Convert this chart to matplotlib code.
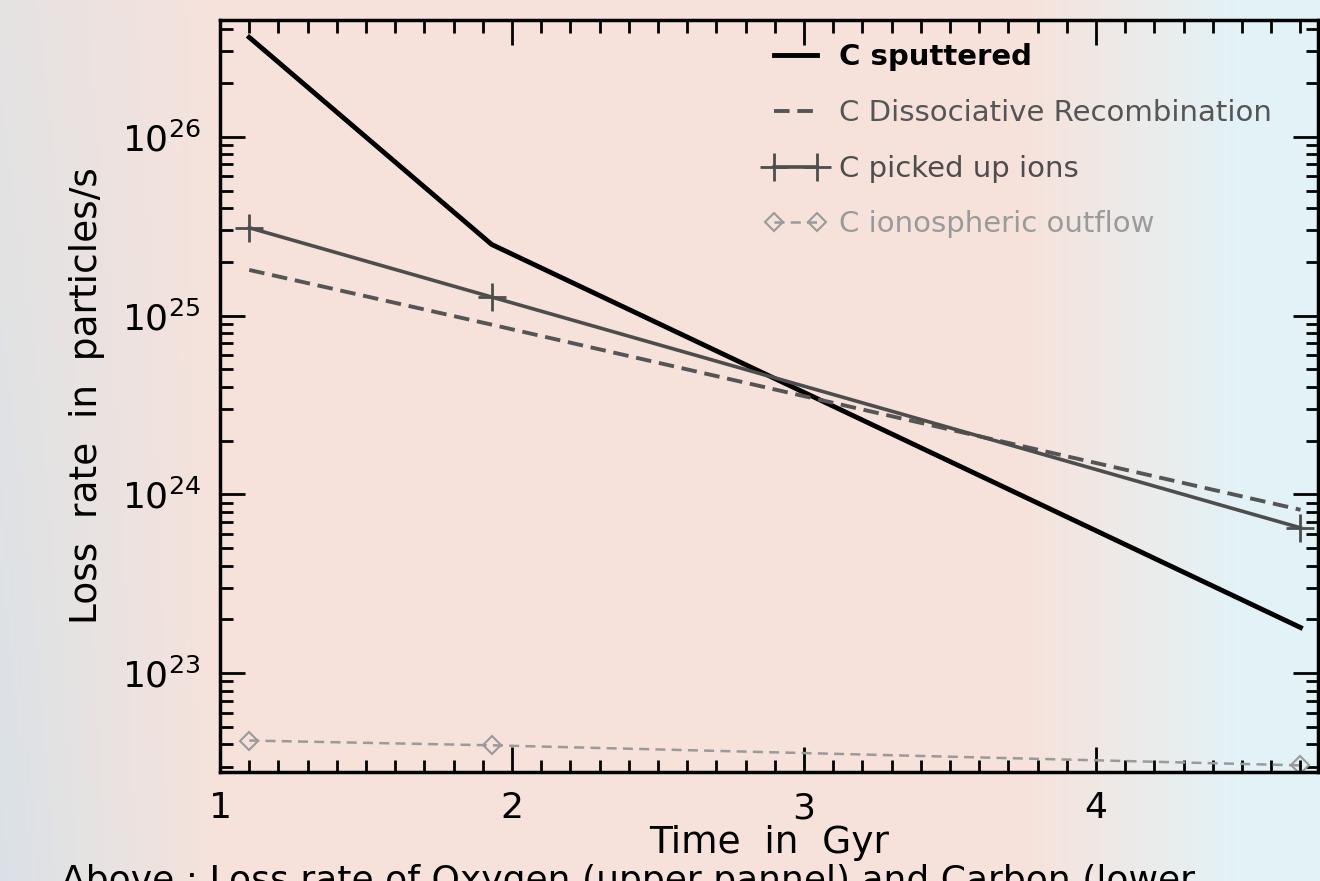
import numpy as np
import matplotlib
matplotlib.use("Agg")
import matplotlib.pyplot as plt

# Carbon loss rates (particles/s) against time (Gyr)
time_gyr = [1.1, 1.93, 4.7]
c_sputtered = [3.6e26, 2.5e25, 1.8e23]
c_dissoc_recomb = [1.8e25, 8.9e24, 8.2e23]
c_pickup_ions = [3.1e25, 1.27e25, 6.5e23]
c_iono_outflow = [4.2e22, 3.95e22, 3.05e22]

x_ticks = [1, 2, 3, 4]
y_ticks = [1e23, 1e24, 1e25, 1e26]

plt.rcParams['font.family'] = ['DejaVu Sans']
plt.rcParams['mathtext.fontset'] = 'dejavusans'

fig = plt.figure(figsize=(13.2, 8.81), dpi=100)

# soft slide-like background: bluish edges fading into a pale pink middle
bg = fig.add_axes([0, 0, 1, 1], zorder=-10)
h, w = 200, 300
xx = np.linspace(0, 1, w)[None, :]
yy = np.linspace(0, 1, h)[:, None]
pink = np.array([0.965, 0.890, 0.862])
blue_left = np.array([0.855, 0.885, 0.905])
cyan_right = np.array([0.890, 0.950, 0.970])
wl = np.clip(1 - xx / 0.16, 0, 1)[..., None] * (0.6 + 0.4 * yy[..., None])
wr = np.clip((xx - 0.78) / 0.16, 0, 1)[..., None] * np.ones_like(yy)[..., None]
img = pink * (1 - wl - wr) + blue_left * wl + cyan_right * wr
img = np.clip(img, 0, 1)
bg.imshow(img, aspect='auto', extent=[0, 1, 0, 1], origin='upper')
bg.axis('off')

ax = fig.add_axes([0.1667, 0.1237, 0.8318, 0.8536])
ax.patch.set_alpha(0)

ax.plot(time_gyr, c_sputtered, color='black', lw=3.5, label='C sputtered')
ax.plot(time_gyr, c_dissoc_recomb, color='#555555', lw=2.8, ls=(0, (4, 2)),
        label='C Dissociative Recombination')
ax.plot(time_gyr, c_pickup_ions, color='#4d4d4d', lw=2.6, marker='+',
        ms=20, mew=2, label='C picked up ions')
ax.plot(time_gyr, c_iono_outflow, color='#9a9a9a', lw=1.8, ls=(0, (4, 2.5)),
        marker='D', ms=9, mfc='none', mew=1.5, label='C ionospheric outflow')

ax.set_yscale('log')
ax.set_xlim(1, 4.76)
ax.set_ylim(2.8e22, 4.5e26)
ax.set_xticks(x_ticks)
ax.set_xticklabels([str(t) for t in x_ticks])
ax.set_xticks(np.arange(1.1, 4.76, 0.1), minor=True)
ax.set_yticks(y_ticks)
ax.set_yticklabels([r'$10^{%d}$' % int(np.log10(v)) for v in y_ticks])

for s in ax.spines.values():
    s.set_linewidth(2.5)
ax.tick_params(which='both', direction='in', top=True, right=True,
               labelsize=26, width=2, pad=14)
ax.tick_params(which='major', length=18)
ax.tick_params(which='minor', length=9)

ax.set_xlabel('Time  in  Gyr', fontsize=27, labelpad=0)
ax.set_ylabel('Loss  rate  in  particles/s', fontsize=27, labelpad=12)

leg = ax.legend(loc='upper left', bbox_to_anchor=(0.475, 1.0), frameon=False,
                fontsize=21, handlelength=2.1, handletextpad=0.45,
                labelspacing=0.95, borderaxespad=0.4, numpoints=2)
text_colors = ['black', '#555555', '#4d4d4d', '#9a9a9a']
for txt, c in zip(leg.get_texts(), text_colors):
    txt.set_color(c)
leg.get_texts()[0].set_fontweight('bold')

fig.text(0.046, -0.019, 'Above : Loss rate of Oxygen (upper pannel) and Carbon (lower',
         fontsize=26, color='black', va='bottom', ha='left')

fig.savefig('out.png', dpi=100)
